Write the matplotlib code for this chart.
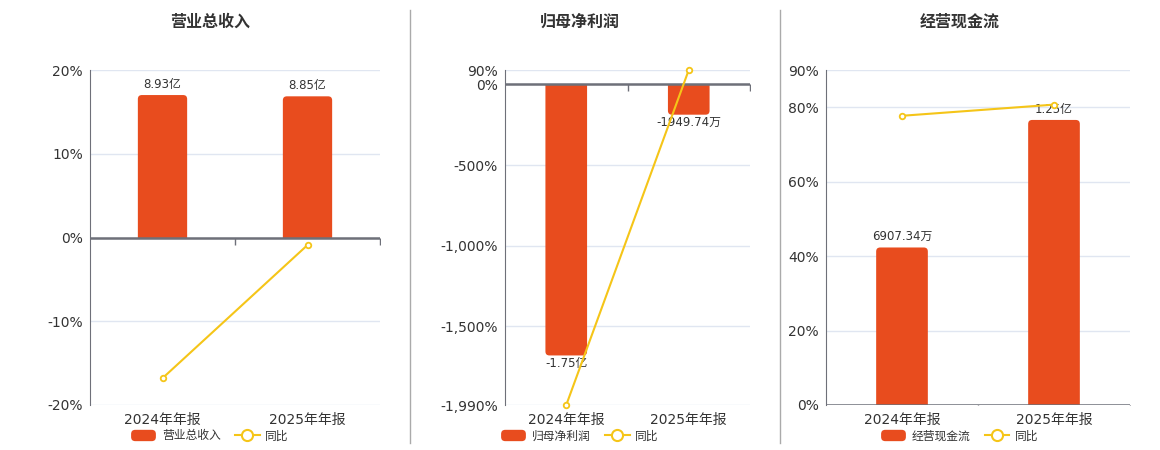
import matplotlib
matplotlib.use("Agg")
import matplotlib.pyplot as plt
from matplotlib.lines import Line2D
from matplotlib.patches import FancyBboxPatch, Patch, Rectangle
from matplotlib.legend_handler import HandlerPatch
from matplotlib.ticker import FuncFormatter

plt.rcParams["font.family"] = ["DejaVu Sans", "Noto Sans CJK SC"]

# Data
categories = ["2024年年报", "2025年年报"]

rev_values = [8.93, 8.85]          # 亿
rev_labels = ["8.93亿", "8.85亿"]
rev_yoy = [-16.8, -0.9]            # %

np_values = [-1.75, -0.194974]     # 亿
np_labels = ["-1.75亿", "-1949.74万"]
np_yoy = [-1990, 90]

cf_values = [0.690734, 1.25]       # 亿
cf_labels = ["6907.34万", "1.25亿"]
cf_yoy = [77.7, 80.7]

BAR_COLOR = "#e84c1e"
LINE_COLOR = "#f5c518"
AXIS_COLOR = "#6e7079"
GRID_COLOR = "#e0e6f1"
TEXT_COLOR = "#333333"

W, H = 1160, 450
AX_H = 335
fig = plt.figure(figsize=(W / 100, H / 100), dpi=100)


def pct_fmt(v, pos):
    return f"{v:,.0f}%"


def round_patch(legend, orig_handle, xdescent, ydescent, width, height, fontsize):
    return FancyBboxPatch((-xdescent, -ydescent), width, height,
                          boxstyle="round,pad=0,rounding_size=3")


def draw_panel(left, right, title, name, values, labels, yoy,
               pct_lim, pct_ticks, bar_lim, cx):
    rect = [left / W, 1 - 405 / H, (right - left) / W, AX_H / H]

    # base axes: grid + percent ticks
    ax = fig.add_axes(rect)
    ax.set_xlim(-0.5, 1.5)
    ax.set_ylim(*pct_lim)
    ax.set_yticks(pct_ticks)
    ax.yaxis.set_major_formatter(FuncFormatter(pct_fmt))
    ax.set_xticks(range(len(categories)))
    ax.set_xticklabels(categories)
    ax.tick_params(axis="y", length=0, pad=5, labelsize=10, labelcolor=TEXT_COLOR)
    ax.tick_params(axis="x", length=0, pad=6, labelsize=10, labelcolor=TEXT_COLOR)
    ax.grid(axis="y", color=GRID_COLOR, lw=1)
    ax.set_axisbelow(True)
    for s in ["top", "right", "bottom"]:
        ax.spines[s].set_visible(False)
    ax.spines["left"].set_color(AXIS_COLOR)

    # bar axes
    axb = ax.twinx()
    axb.set_xlim(-0.5, 1.5)
    axb.set_ylim(*bar_lim)
    axb.set_yticks([])
    for s in axb.spines.values():
        s.set_visible(False)
    bars = axb.bar(range(len(categories)), values, width=0.34,
                   color=BAR_COLOR, lw=0, zorder=2)

    # swap each bar for a rounded one, clipped at zero so the base stays square
    xpp = 2.0 / (right - left)
    ypp = (bar_lim[1] - bar_lim[0]) / AX_H
    r = 4 * xpp
    ext = 8 * ypp
    for b in bars:
        h = b.get_height()
        if h >= 0:
            y0, hh = -ext, h + ext
            clip = Rectangle((-0.5, 0), 2, bar_lim[1], transform=axb.transData)
        else:
            y0, hh = h, -h + ext
            clip = Rectangle((-0.5, bar_lim[0]), 2, -bar_lim[0], transform=axb.transData)
        p = FancyBboxPatch((b.get_x(), y0), b.get_width(), hh,
                           boxstyle=f"round,pad=0,rounding_size={r}",
                           mutation_aspect=ypp / xpp,
                           fc=BAR_COLOR, lw=0, zorder=2)
        axb.add_patch(p)
        p.set_clip_path(clip)
        b.set_visible(False)

    for i, (v, lab) in enumerate(zip(values, labels)):
        if v >= 0:
            axb.annotate(lab, (i, v), xytext=(0, 3), textcoords="offset points",
                         ha="center", va="bottom", fontsize=8.5, color=TEXT_COLOR)
        else:
            axb.annotate(lab, (i, v), xytext=(0, -1), textcoords="offset points",
                         ha="center", va="top", fontsize=8.5, color=TEXT_COLOR)

    # zero line with category boundary ticks
    axb.axhline(0, color=AXIS_COLOR, lw=1.8, zorder=3)
    axb.plot([0.5, 1.5], [0, 0], ls="none", marker=3, markersize=5,
             color=AXIS_COLOR, mew=1, zorder=3)

    # line axes
    axl = ax.twinx()
    axl.set_ylim(*pct_lim)
    axl.set_yticks([])
    for s in axl.spines.values():
        s.set_visible(False)
    axl.plot(range(len(categories)), yoy, color=LINE_COLOR, lw=1.5,
             marker="o", markersize=4, mfc="white", mec=LINE_COLOR, mew=1.3,
             clip_on=False, zorder=4)

    fig.text(cx / W, 1 - 22 / H, title, ha="center", va="center",
             fontsize=11.5, fontweight="bold", color=TEXT_COLOR)

    bar_handle = Patch(facecolor=BAR_COLOR, lw=0)
    handles = [bar_handle,
               Line2D([], [], color=LINE_COLOR, lw=1.5, marker="o", markersize=8,
                      mfc="white", mec=LINE_COLOR, mew=1.5)]
    axl.legend(handles, [name, "同比"], loc="center", ncol=2,
               bbox_to_anchor=(cx / W, 1 - 436 / H), bbox_transform=fig.transFigure,
               frameon=False, fontsize=8.5, handlelength=2.1, handleheight=1.1,
               handletextpad=0.5, columnspacing=1.2, labelcolor=TEXT_COLOR,
               handler_map={bar_handle: HandlerPatch(patch_func=round_patch)})


draw_panel(90, 380, "营业总收入", "营业总收入", rev_values, rev_labels, rev_yoy,
           (-20, 20), [-20, -10, 0, 10, 20], (-10.5, 10.5), 210)
draw_panel(505, 750, "归母净利润", "归母净利润", np_values, np_labels, np_yoy,
           (-1990, 90), [-1990, -1500, -1000, -500, 0, 90], (-2.07, 2.07 * 90 / 1990), 580)
draw_panel(826, 1130, "经营现金流", "经营现金流", cf_values, cf_labels, cf_yoy,
           (0, 90), [0, 20, 40, 60, 80, 90], (0, 1.469), 960)

# separators
for x in [410, 780]:
    fig.add_artist(Line2D([x / W, x / W], [1 - 10 / H, 1 - 443 / H],
                          color="#aaaaaa", lw=1, transform=fig.transFigure))

fig.savefig("out.png", dpi=100)
